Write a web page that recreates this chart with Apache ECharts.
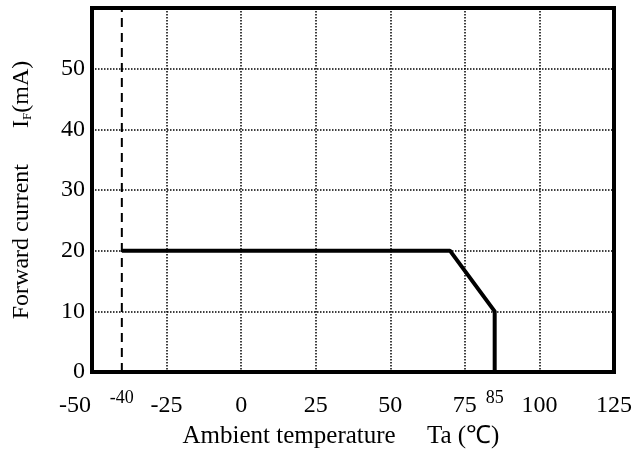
<!DOCTYPE html>
<html>
<head>
    <meta charset="utf-8">
    <title>Forward current derating</title>
    <script src="https://cdn.jsdelivr.net/npm/echarts@6/dist/echarts.min.js"></script>
</head>
<body style="margin:0;background:#fff;">
    <div id="main" style="width:640px;height:455px;"></div>
    <script type="text/javascript">
        // derating curve (Ta in degC, IF in mA)
        var curveTa = [-40, 70, 85, 85];
        var curveIf = [20, 20, 10, 0];
        // dashed line at the minimum operating temperature
        var limitTa = [-40, -40];
        var limitIf = [0, 60];
        // extra small labels under the x axis
        var markTicks = [-40, 85];

        var curveData = [];
        for (var i = 0; i < curveTa.length; i++) {
            curveData.push([curveTa[i], curveIf[i]]);
        }
        var limitData = [];
        for (var j = 0; j < limitTa.length; j++) {
            limitData.push([limitTa[j], limitIf[j]]);
        }

        var serif = '"Liberation Serif", "Times New Roman", serif';
        var myChart = echarts.init(document.getElementById('main'));

        var option = {
            animation: false,
            backgroundColor: '#fff',
            grid: {
                left: 92, right: 26, top: 8, bottom: 83,
                show: true, borderColor: '#000', borderWidth: 4
            },
            xAxis: [{
                type: 'value',
                min: -50, max: 125, interval: 25,
                name: 'Ambient temperature     Ta (\u2103)',
                nameLocation: 'middle',
                nameGap: 52,
                nameTextStyle: { fontFamily: serif, fontSize: 25, color: '#000', padding: [0, 24, 0, 0] },
                axisLine: { show: true, onZero: false, lineStyle: { color: '#000', width: 4 } },
                axisTick: { show: false },
                axisLabel: {
                    margin: 22, fontFamily: serif, fontSize: 24, color: '#000',
                    // the -50 label sits left of the frame in the original
                    formatter: function (v) { return v === -50 ? '{l|-50}' : v; },
                    rich: { l: { fontFamily: serif, fontSize: 24, color: '#000', padding: [0, 34, 0, 0] } }
                },
                splitLine: { show: true, lineStyle: { type: 'dotted', color: '#000', width: 1.5 } }
            }, {
                type: 'value',
                position: 'bottom',
                min: -50, max: 125,
                axisLine: { show: false },
                axisTick: { show: false },
                splitLine: { show: false },
                axisLabel: {
                    customValues: markTicks,
                    margin: 17, fontFamily: serif, fontSize: 18, color: '#000',
                    formatter: function (v) { return v; }
                }
            }],
            yAxis: {
                type: 'value',
                min: 0, max: 60, interval: 10,
                name: 'Forward current      I{sub|F}(mA)',
                nameLocation: 'middle',
                nameGap: 58,
                nameTextStyle: {
                    fontFamily: serif, fontSize: 24, color: '#000',
                    rich: { sub: { fontFamily: serif, fontSize: 13, color: '#000', verticalAlign: 'bottom', padding: [8, 0, 0, 0] } }
                },
                axisLine: { show: true, onZero: false, lineStyle: { color: '#000', width: 4 } },
                axisTick: { show: false },
                axisLabel: {
                    margin: 7, fontFamily: serif, fontSize: 24, color: '#000',
                    formatter: function (v) { return v >= 60 ? '' : v; }
                },
                splitLine: { show: true, lineStyle: { type: 'dotted', color: '#000', width: 1.5 } }
            },
            series: [{
                type: 'line',
                data: limitData,
                symbol: 'none',
                lineStyle: { color: '#000', width: 2, type: [9, 6] },
                z: 3
            }, {
                type: 'line',
                data: curveData,
                symbol: 'none',
                lineStyle: { color: '#000', width: 4 },
                z: 4
            }]
        };

        myChart.setOption(option);
    </script>
</body>
</html>
